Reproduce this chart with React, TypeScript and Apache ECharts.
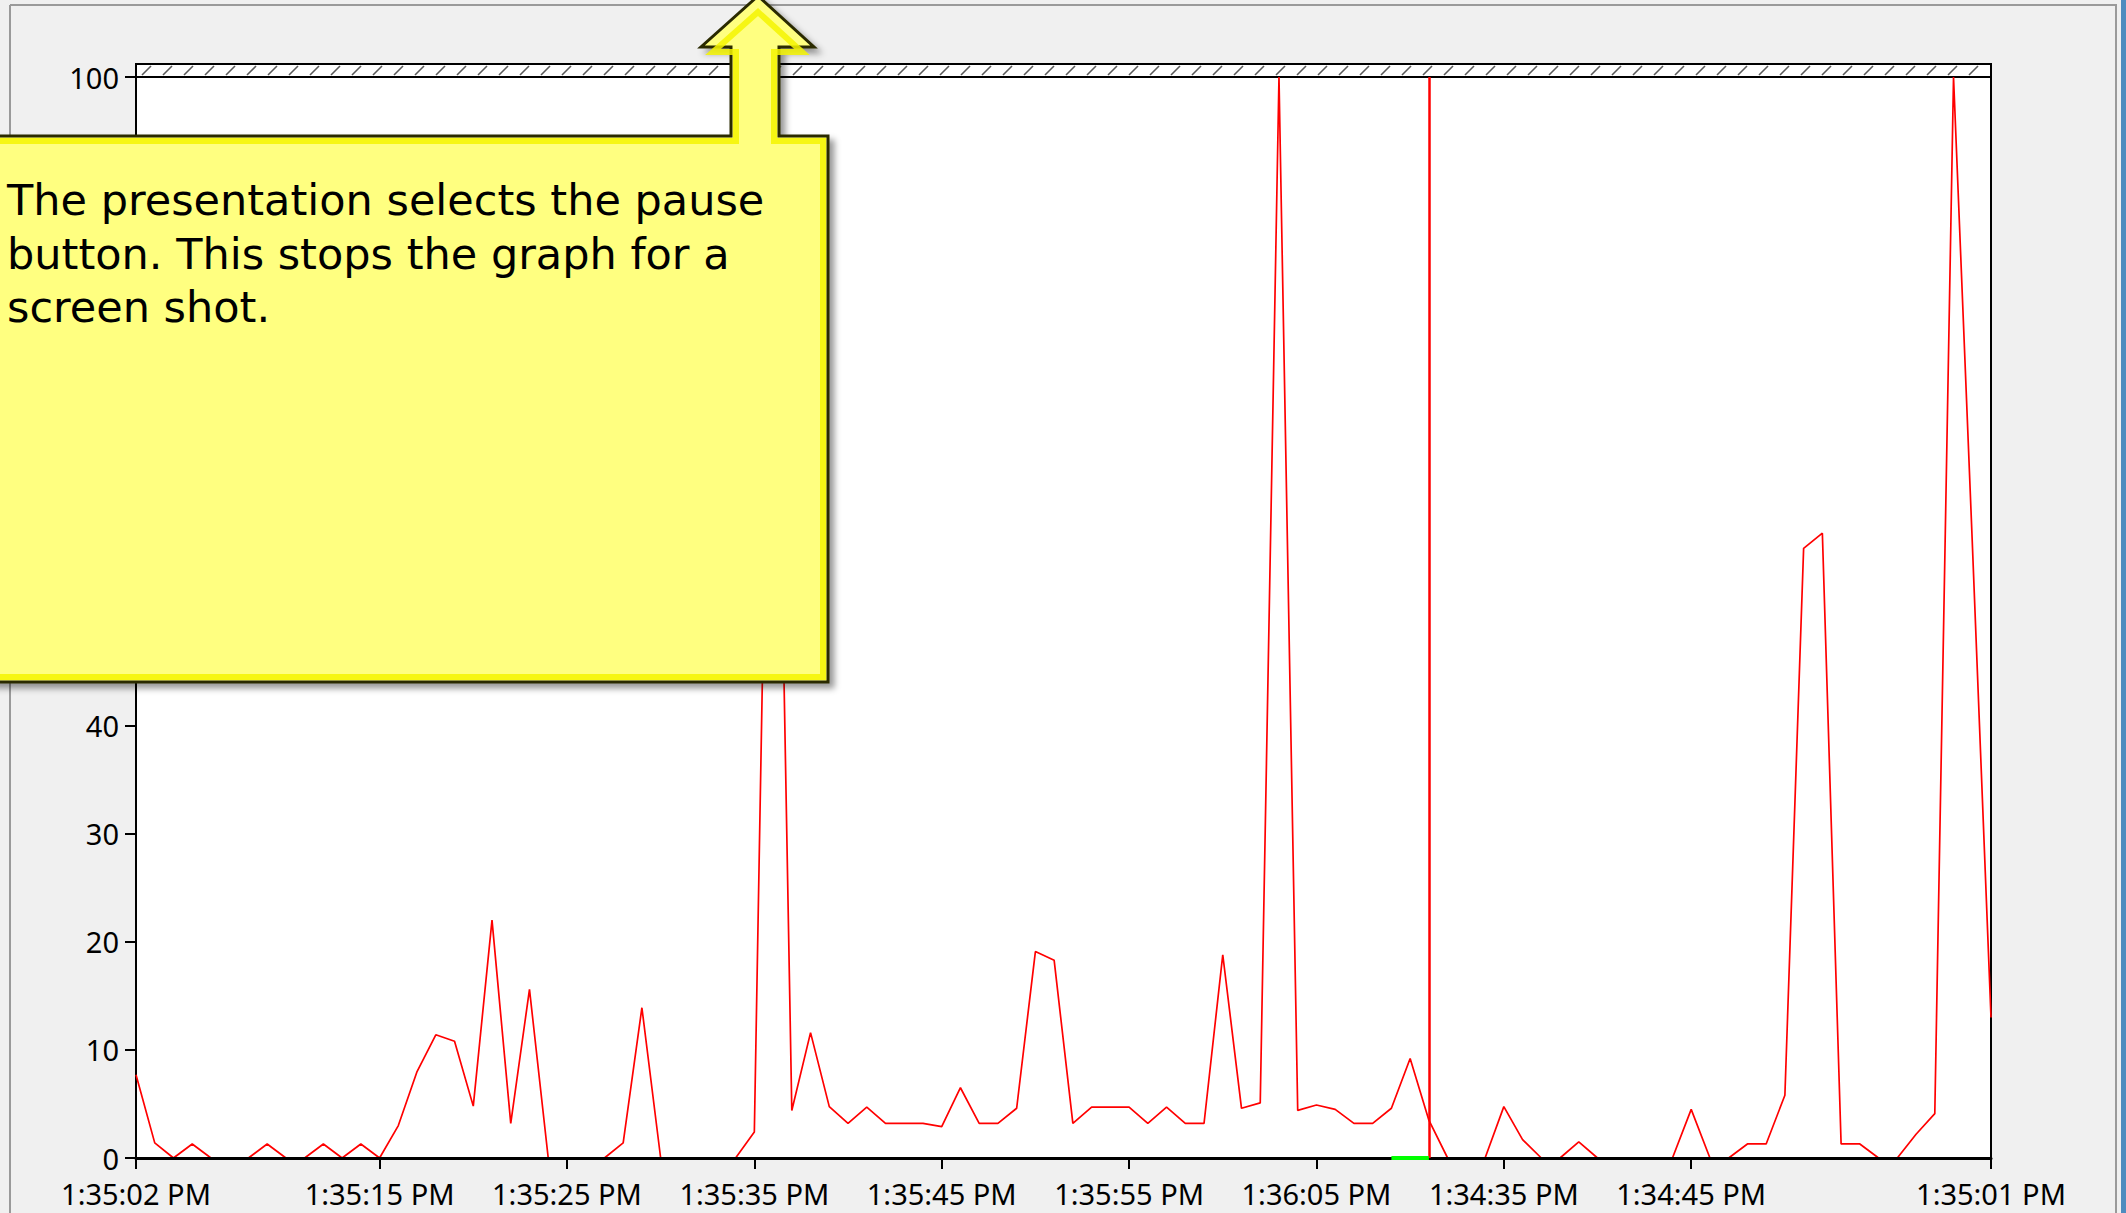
import React, { useEffect, useRef } from "react";
import * as echarts from "echarts";

const W = 2126;
const H = 1213;

// sampled values (percent), one per second, 100 samples across the graph
const values = [
  7.7, 1.4, 0, 1.3, 0, 0, 0, 1.3, 0, 0,
  1.3, 0, 1.3, 0, 3, 8, 11.4, 10.8, 4.8, 22,
  3.2, 15.6, 0, 0, 0, 0, 1.4, 13.9, 0, 0,
  0, 0, 0, 2.4, 100, 4.4, 11.6, 4.75, 3.2, 4.7,
  3.2, 3.2, 3.2, 2.9, 6.5, 3.2, 3.2, 4.6, 19.1, 18.3,
  3.2, 4.7, 4.7, 4.7, 3.2, 4.7, 3.2, 3.2, 18.8, 4.6,
  5.1, 100, 4.4, 4.9, 4.5, 3.2, 3.2, 4.6, 9.2, 3.5,
  0, 0, 0, 4.75, 1.7, 0, 0, 1.5, 0, 0,
  0, 0, 0, 4.5, 0, 0, 1.3, 1.3, 5.8, 56.4,
  57.8, 1.3, 1.3, 0, 0, 2.2, 4.1, 100, 57, 13,
];

const tickIndex = [0, 13, 23, 33, 43, 53, 63, 73, 83, 99];
const tickLabels = [
  "1:35:02 PM", "1:35:15 PM", "1:35:25 PM", "1:35:35 PM", "1:35:45 PM",
  "1:35:55 PM", "1:36:05 PM", "1:34:35 PM", "1:34:45 PM", "1:35:01 PM",
];

const timeBarIndex = 69;
const highlightStart = 67;
const highlightEnd = 69;

const yMin = 0;
const yMax = 100;
const yStep = 10;
// y labels that are visible (the others lie under the callout)
const yLabelsShown = [0, 10, 20, 30, 40, 100];

const calloutLines = [
  "The presentation selects the pause",
  "button. This stops the graph for a",
  "screen shot.",
];

export default function App() {
  const ref = useRef<HTMLDivElement>(null);

  useEffect(() => {
    if (!ref.current) return;
    const chart = echarts.init(ref.current, undefined, { renderer: "svg" });

    const cats = values.map((_, i) => String(i));
    const labelMap: Record<number, string> = {};
    tickIndex.forEach((idx, k) => (labelMap[idx] = tickLabels[k]));
    const greenData = values.map((_, i) =>
      i >= highlightStart && i <= highlightEnd ? 0 : null
    );

    const gridLeft = 136;
    const gridRight = 135;
    const gridTop = 77;
    const gridBottom = 55;
    const plotW = W - gridLeft - gridRight;

    // hatch band above plot
    const hatch: any[] = [];
    for (let x = gridLeft + 6; x < gridLeft + plotW - 8; x += 21) {
      hatch.push({
        type: "line",
        shape: { x1: x, y1: gridTop - 2, x2: x + 9, y2: gridTop - 11 },
        style: { stroke: "#5a5a5a", lineWidth: 1.6 },
        z: 2,
        silent: true,
      });
    }

    const callout = [
      [-10, 136], [731, 136], [731, 47], [701, 47], [758, -4], [814, 47],
      [779, 47], [779, 136], [828, 136], [828, 682], [-10, 682],
    ];
    const calloutInner = [
      [-10, 141], [736, 141], [736, 52], [713, 52], [758, 12], [802, 52],
      [774, 52], [774, 141], [823, 141], [823, 677], [-10, 677],
    ];

    const option: any = {
      animation: false,
      backgroundColor: "#f0f0f0",
      grid: {
        left: gridLeft,
        right: gridRight,
        top: gridTop,
        bottom: gridBottom,
        show: true,
        backgroundColor: "#ffffff",
        borderColor: "#000",
        borderWidth: 2,
      },
      xAxis: {
        type: "category",
        data: cats,
        boundaryGap: false,
        z: 3,
        axisLine: { show: true, lineStyle: { color: "#000", width: 3 } },
        axisTick: {
          show: true,
          length: 11,
          interval: (i: number) => tickIndex.includes(i),
          lineStyle: { color: "#000", width: 2 },
        },
        axisLabel: {
          interval: (i: number) => tickIndex.includes(i),
          formatter: (_v: string, i: number) => labelMap[i] ?? "",
          color: "#000",
          fontSize: 29,
          fontFamily: "Noto Sans",
          margin: 21,
        },
        splitLine: { show: false },
      },
      yAxis: {
        type: "value",
        min: yMin,
        max: yMax,
        interval: yStep,
        axisLine: { show: true, lineStyle: { color: "#000", width: 2 } },
        axisTick: { show: true, length: 11, lineStyle: { color: "#000", width: 2 } },
        axisLabel: {
          color: "#000",
          fontSize: 29,
          fontFamily: "Noto Sans",
          margin: 17,
          formatter: (v: number) => (yLabelsShown.includes(v) ? String(v) : ""),
        },
        splitLine: { show: false },
      },
      series: [
        {
          type: "line",
          data: values,
          symbol: "none",
          lineStyle: { color: "#ff0000", width: 1.7 },
          z: 2,
          markLine: {
            silent: true,
            symbol: "none",
            label: { show: false },
            lineStyle: { color: "#ff0000", width: 2.5, type: "solid" },
            data: [{ xAxis: cats[timeBarIndex] }],
          },
        },
        {
          type: "line",
          data: greenData,
          symbol: "none",
          lineStyle: { color: "#00ff00", width: 4 },
          z: 5,
        },
      ],
      graphic: [
        { type: "line", shape: { x1: 10, y1: 5, x2: 2117, y2: 5 }, style: { stroke: "#9a9a9a", lineWidth: 2 }, silent: true },
        { type: "line", shape: { x1: 10, y1: 5, x2: 10, y2: H }, style: { stroke: "#9a9a9a", lineWidth: 2 }, silent: true },
        { type: "line", shape: { x1: 2116, y1: 5, x2: 2116, y2: H }, style: { stroke: "#9a9a9a", lineWidth: 2 }, silent: true },
        { type: "rect", shape: { x: 2121, y: 0, width: 5, height: H }, style: { fill: "#4d8cbf" }, silent: true },
        {
          type: "rect",
          shape: { x: gridLeft, y: gridTop - 13, width: plotW, height: 13 },
          style: { fill: "#fff", stroke: "#000", lineWidth: 2 },
          z: 1,
          silent: true,
        },
        ...hatch,
        {
          type: "polygon",
          shape: { points: callout },
          style: {
            fill: "#ffff80",
            stroke: "#2a2a00",
            lineWidth: 3,
            shadowBlur: 6,
            shadowOffsetX: 5,
            shadowOffsetY: 5,
            shadowColor: "rgba(0,0,0,0.4)",
          },
          z: 100,
          silent: true,
        },
        {
          type: "polyline",
          shape: { points: calloutInner },
          style: { fill: "none", stroke: "rgba(245,245,0,0.85)", lineWidth: 6 },
          z: 101,
          silent: true,
        },
        ...calloutLines.map((t, k) => ({
          type: "text",
          x: 7,
          y: 200 + k * 53.5,
          style: {
            text: t,
            fill: "#000",
            fontSize: 43,
            fontFamily: "DejaVu Sans",
            verticalAlign: "middle",
            align: "left",
          },
          z: 102,
          silent: true,
        })),
      ],
    };

    chart.setOption(option);
    return () => chart.dispose();
  }, []);

  return (
    <div
      ref={ref}
      style={{ position: "fixed", left: 0, top: 0, width: W, height: H }}
    />
  );
}
